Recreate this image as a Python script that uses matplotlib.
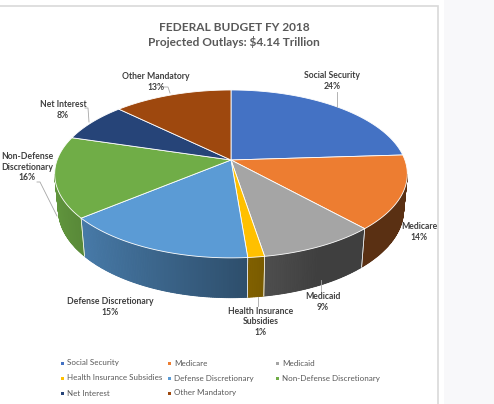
import numpy as np
import matplotlib
matplotlib.use("Agg")
import matplotlib.pyplot as plt
from matplotlib.patches import Polygon, Rectangle
from matplotlib import colors as mcolors

plt.rcParams['font.family'] = ['Lato', 'DejaVu Sans']

# outlays, billions of dollars
categories = ['Social Security', 'Medicare', 'Medicaid', 'Health Insurance Subsidies',
              'Defense Discretionary', 'Non-Defense Discretionary', 'Net Interest',
              'Other Mandatory']
outlays = [994, 588, 381, 54, 633, 646, 315, 529]
label_text = ['Social Security', 'Medicare', 'Medicaid', 'Health Insurance\nSubsidies',
              'Defense Discretionary', 'Non-Defense\nDiscretionary', 'Net Interest',
              'Other Mandatory']
slice_colors = ['#4472C4', '#ED7D31', '#A5A5A5', '#FFC000',
                '#5B9BD5', '#70AD47', '#264478', '#9E480E']
title = 'FEDERAL BUDGET FY 2018\nProjected Outlays: $4.14 Trillion'

# label layout (pixel centres) and leader lines
label_pos = [(332, 81), (419, 232), (323, 302), (261, 322),
             (110, 307), (27, 167), (63, 110), (156, 82)]
leaders = [[(337, 92), (337, 107)], None, [(321, 280), (321, 292)],
           [(258, 297), (258, 306)], None,
           [(37, 182), (40, 182), (57, 216)],
           [(85, 108), (88, 108), (89, 122)],
           [(163, 87), (168, 87), (170, 93)]]

# projection of the tilted disc (pixel space)
CX, CY = 231, 160
F = 925.0
L = 5.32
ELEV = np.radians(28)
THICK = 0.235
cs, sn = np.cos(ELEV), np.sin(ELEV)


def proj(phi, h):
    X = np.sin(phi)
    D = np.cos(phi)
    depth = L + D * cs - h * sn
    return CX + F * X / depth, CY - F * (D * sn + h * cs) / depth


def shade(color, phi):
    k = max(0.38, 0.53 - 0.34 * np.sin(phi))
    r, g, b = mcolors.to_rgb(color)
    return (r * k, g * k, b * k)


fig = plt.figure(figsize=(4.94, 4.04), dpi=100)
ax = fig.add_axes([0, 0, 1, 1])
ax.set_xlim(0, 494)
ax.set_ylim(404, 0)
ax.axis('off')

# page background + chart frame
ax.add_patch(Rectangle((444, 0), 50, 404, facecolor='#f8f8fa', edgecolor='none'))
ax.add_patch(Rectangle((-2, 5.5), 440, 410, facecolor='white', edgecolor='#d9d9d9', lw=1.2))

vals = np.array(outlays, dtype=float)
frac = vals / vals.sum()
edges = np.concatenate([[0], np.cumsum(frac)]) * 2 * np.pi
silhouette = np.arccos(-cs / L)

# side walls (front-facing part only)
for i in range(len(vals)):
    a0, a1 = edges[i], edges[i + 1]
    lo, hi = max(a0, silhouette), min(a1, 2 * np.pi - silhouette)
    if hi <= lo:
        continue
    n = max(2, int((hi - lo) / 0.01))
    ph = np.linspace(lo, hi, n)
    xt, yt = proj(ph, 0)
    xb, yb = proj(ph[::-1], -THICK)
    base = shade(slice_colors[i], (lo + hi) / 2)
    ax.add_patch(Polygon(list(zip(xt, yt)) + list(zip(xb, yb)), closed=True,
                         facecolor=base, edgecolor='none'))
    for p0, p1 in zip(ph[:-1], ph[1:]):
        x0t, y0t = proj(p0, 0)
        x1t, y1t = proj(p1, 0)
        x1b, y1b = proj(p1, -THICK)
        x0b, y0b = proj(p0, -THICK)
        col = shade(slice_colors[i], (p0 + p1) / 2)
        ax.add_patch(Polygon([(x0t, y0t), (x1t, y1t), (x1b, y1b), (x0b, y0b)],
                             closed=True, facecolor=col, edgecolor=col, lw=0.6))
    # boundary seam on the wall
    for p in (a0, a1):
        if silhouette < p < 2 * np.pi - silhouette:
            xt0, yt0 = proj(p, 0)
            xb0, yb0 = proj(p, -THICK)
            ax.plot([xt0, xb0], [yt0, yb0], color='white', lw=0.5, alpha=0.8)

# top face
for i in range(len(vals)):
    ph = np.linspace(edges[i], edges[i + 1], 120)
    xs, ys = proj(ph, 0)
    pts = [(CX, CY)] + list(zip(xs, ys))
    ax.add_patch(Polygon(pts, closed=True, facecolor=slice_colors[i],
                         edgecolor='white', lw=0.6, joinstyle='round'))

# data labels
for i in range(len(vals)):
    pct = '{:.0f}%'.format(frac[i] * 100)
    x, y = label_pos[i]
    ax.text(x, y, label_text[i] + '\n' + pct, ha='center', va='center',
            fontsize=6.2, color='#404040', fontweight='bold', linespacing=1.25)
    if leaders[i]:
        lx, ly = zip(*leaders[i])
        ax.plot(lx, ly, color='#a6a6a6', lw=0.6)

# title
ax.text(234, 35, title, ha='center', va='center', fontsize=8.6,
        fontweight='bold', color='#595959', linespacing=1.3)

# legend (row-wise, three columns)
col_x = [62, 169, 277]
row_y = [363, 378, 393]
for i, name in enumerate(categories):
    r, c = divmod(i, 3)
    mx, my = col_x[c], row_y[r]
    ax.add_patch(Rectangle((mx - 1.5, my - 1.5), 3, 3, facecolor=slice_colors[i],
                           edgecolor='none'))
    ax.text(mx + 5, my, name, ha='left', va='center', fontsize=5.8, color='#595959')

fig.savefig('out.png', dpi=100)
